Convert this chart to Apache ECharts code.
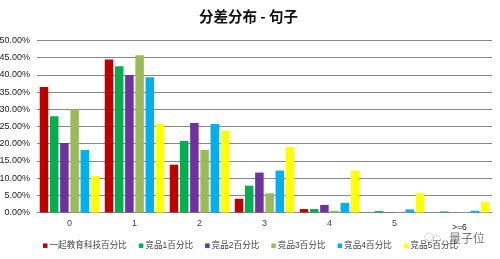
<!DOCTYPE html>
<html><head><meta charset="utf-8">
<style>html,body{margin:0;padding:0;background:#fff}#c{width:500px;height:259px}</style>
<script src="https://cdn.jsdelivr.net/npm/echarts@6/dist/echarts.min.js"></script>
</head><body><div id="c"></div>
<script>
const titleText = '分差分布 - 句子';
const categories = ['0','1','2','3','4','5','>=6'];
const tickLabels = ['0.00%','5.00%','10.00%','15.00%','20.00%','25.00%','30.00%','35.00%','40.00%','45.00%','50.00%'];
const names = ['一起教育科技百分比','竞品1百分比','竞品2百分比','竞品3百分比','竞品4百分比','竞品5百分比'];
const colors = ['#C00000','#00B050','#7030A0','#9BBB59','#00B0F0','#FFFF00'];
const s0 = [36.5,44.5,13.9,4.0,1.0,0,0];
const s1 = [28.0,42.5,20.8,7.8,1.0,0.4,0.3];
const s2 = [20.2,40.0,26.0,11.6,2.2,0.1,0];
const s3 = [30.0,45.7,18.2,5.6,0.5,0,0.1];
const s4 = [18.2,39.3,25.7,12.2,2.8,0.9,0.5];
const s5 = [10.7,25.7,23.7,19.0,12.2,5.6,3.0];
const all = [s0,s1,s2,s3,s4,s5];
const font = 'Liberation Sans, "Noto Sans CJK SC", sans-serif';
const chart = echarts.init(document.getElementById('c'));
chart.setOption({
  animation:false,
  title:{text:titleText,left:199,top:4,padding:[5,0,5,0],
    textStyle:{fontFamily:'"Noto Sans CJK SC", sans-serif',fontSize:14.5,fontWeight:'bold',color:'#111'}},
  legend:{bottom:4,left:38,padding:5,icon:'rect',itemWidth:4.5,itemHeight:4.5,itemGap:12,
    textStyle:{fontFamily:font,fontSize:8.6,color:'#444',padding:[0,0,0,-3]},
    data:names},
  grid:{left:37,right:8,top:40.5,bottom:46.5,containLabel:false,outerBoundsMode:'none'},
  xAxis:{type:'category',data:categories,
    axisTick:{show:false},
    axisLine:{lineStyle:{color:'#888',width:1}},
    axisLabel:{fontFamily:font,fontSize:9,color:'#444',margin:7,
      formatter:v=>v==='>=6'?'{a|>=6}':v,
      rich:{a:{fontSize:8.5,color:'#222',padding:[4,0,0,0]}}}},
  yAxis:{type:'value',min:0,max:50,interval:5,
    axisLine:{show:false},axisTick:{show:false},
    axisLabel:{fontFamily:font,fontSize:9,color:'#222',margin:7,
      formatter:v=>tickLabels[Math.round(v/5)]},
    splitLine:{lineStyle:{color:'#888',width:1}}},
  series:names.map((n,i)=>({name:n,type:'bar',data:all[i],barWidth:8.5,barGap:'20%',
    itemStyle:{color:colors[i]}})),
  graphic:[
    {type:'text',left:449,top:232,silent:true,style:{text:'量子位',font:'12px "Noto Sans CJK SC"',fill:'#777'}},
    {type:'circle',shape:{cx:429,cy:237,r:4},style:{fill:'none',stroke:'#aaa',lineWidth:1,lineDash:[1.5,1.5]}},
    {type:'circle',shape:{cx:437,cy:239,r:3.5},style:{fill:'none',stroke:'#aaa',lineWidth:1,lineDash:[1.5,1.5]}}
  ]
});
</script></body></html>
